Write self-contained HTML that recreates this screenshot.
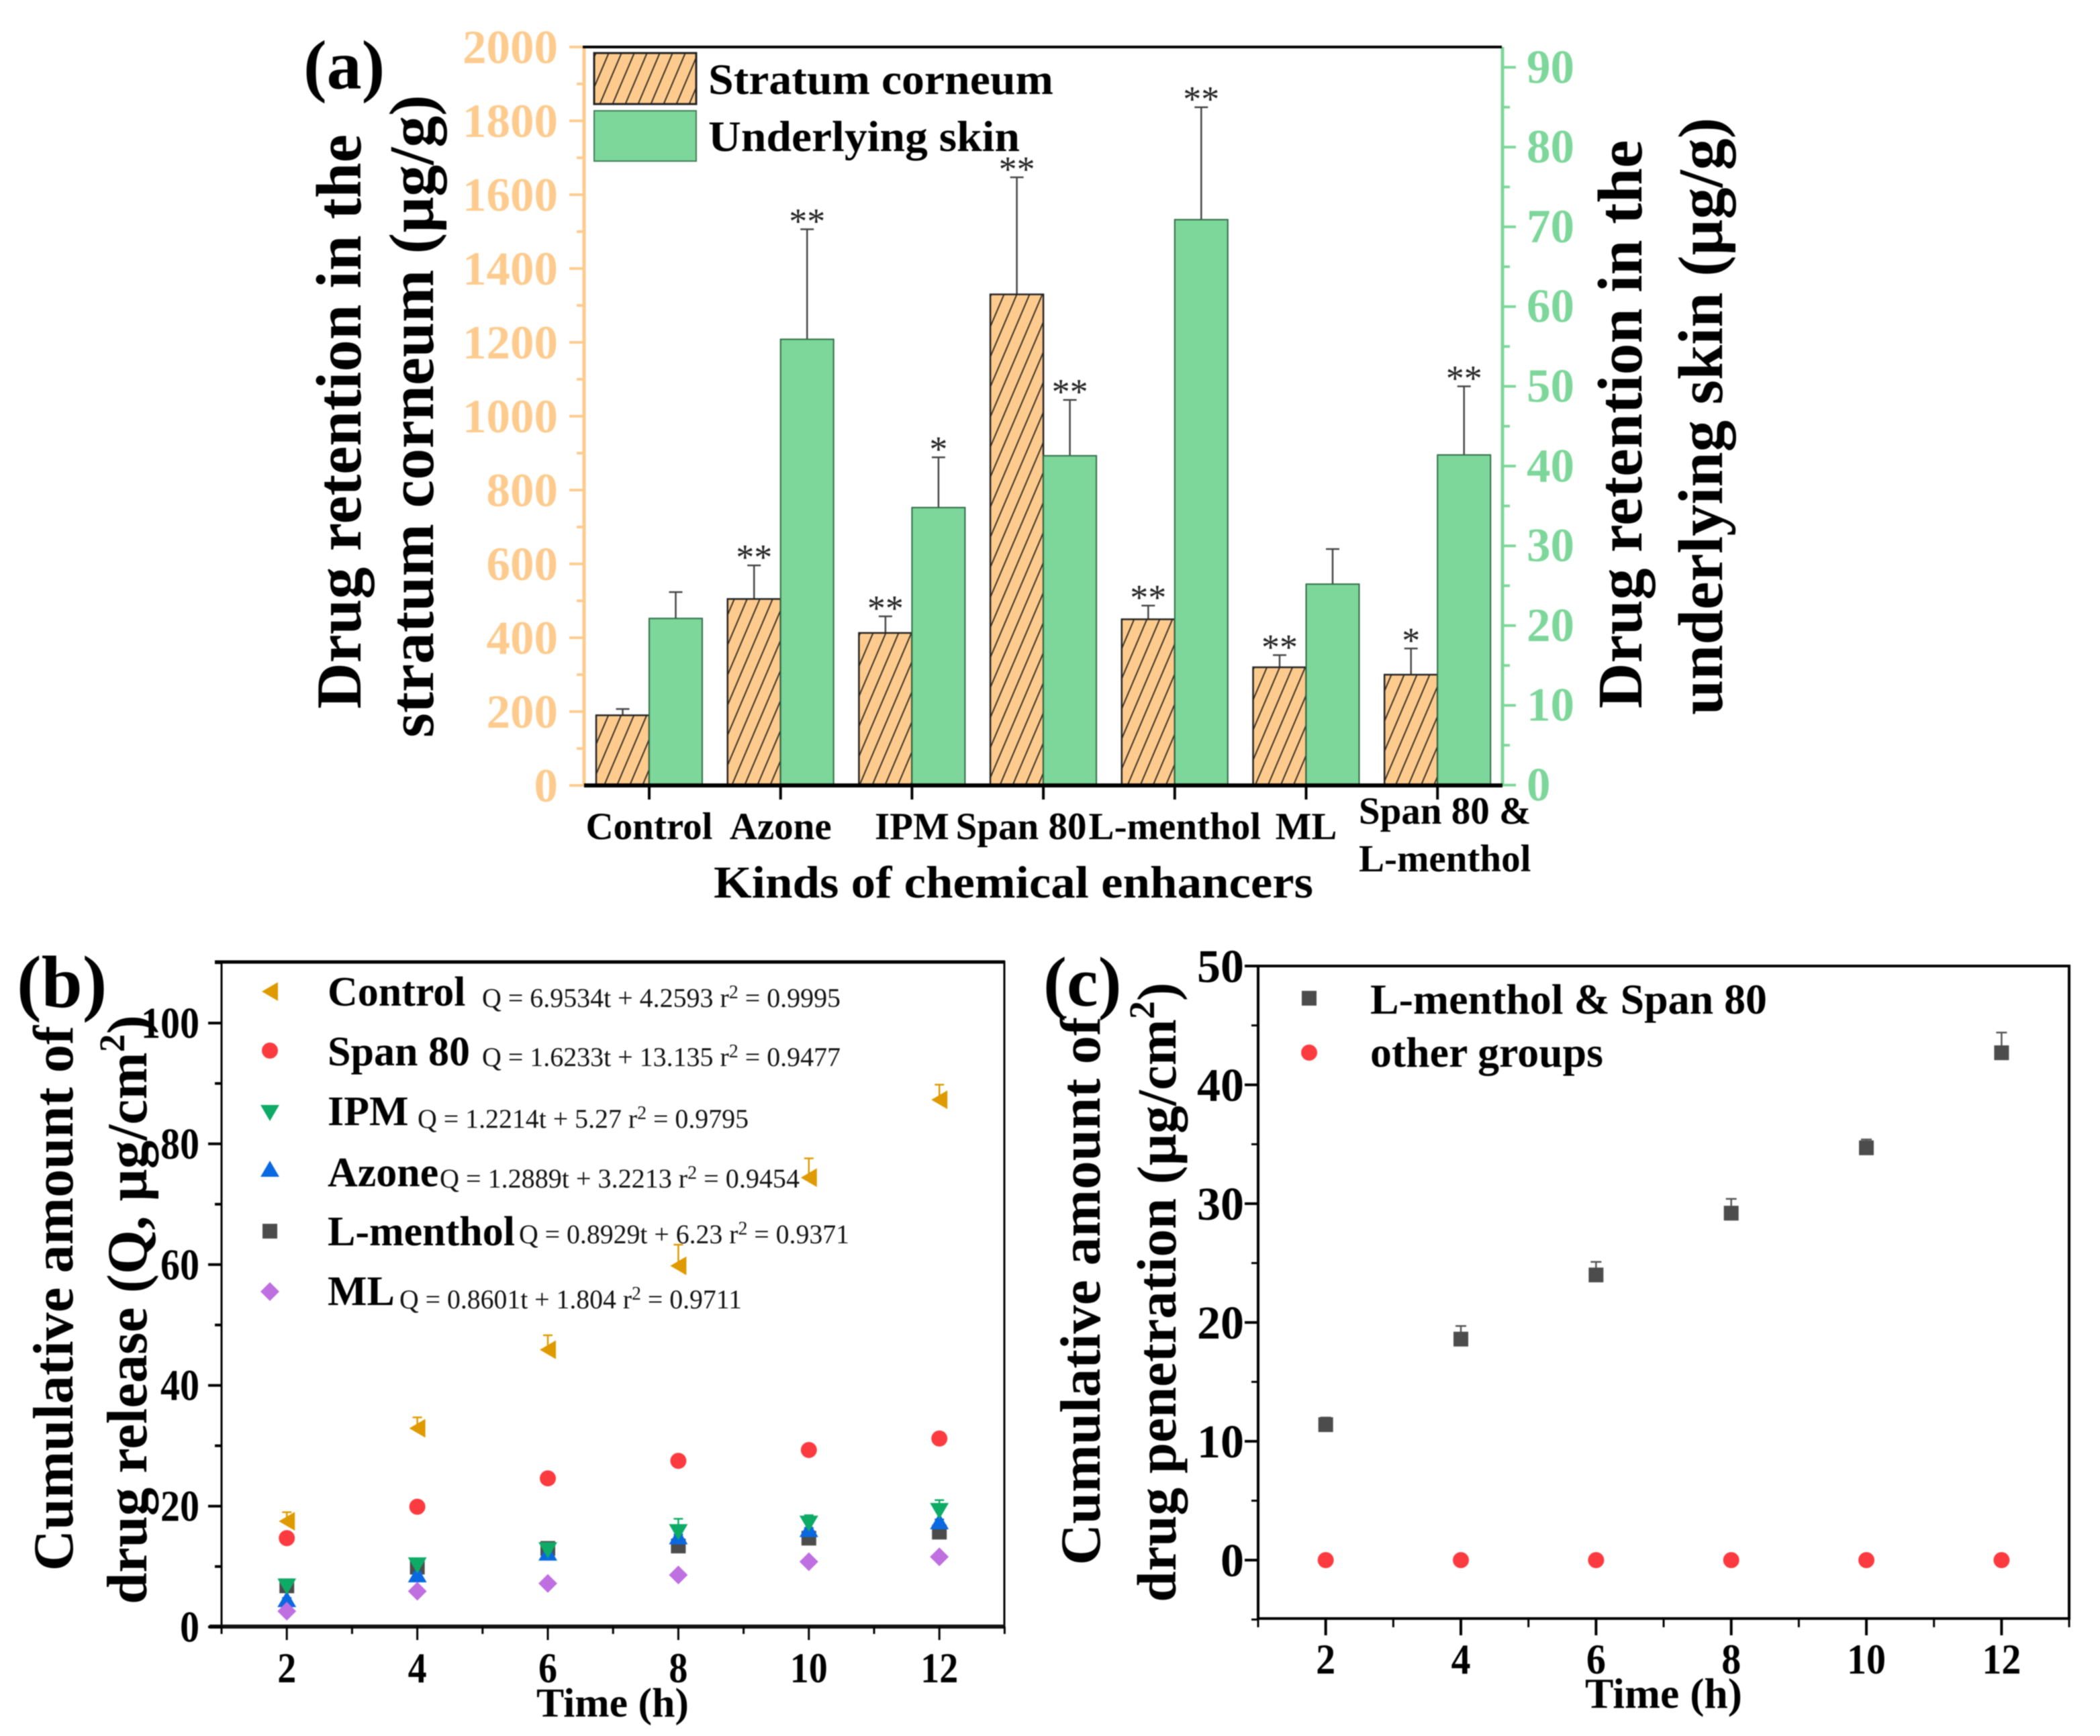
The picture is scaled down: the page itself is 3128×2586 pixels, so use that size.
<!DOCTYPE html>
<html lang="en">
<head>
<meta charset="utf-8">
<title>Drug retention and release charts</title>
<style>
html,body{margin:0;padding:0;background:#fff;width:3128px;height:2586px;overflow:hidden}
svg{display:block;filter:blur(0.8px)}
text{font-family:"Liberation Serif",serif;font-weight:bold;fill:#000}
.eq{font-weight:normal;font-size:40px;fill:#111}
</style>
</head>
<body>
<svg id="fig" xmlns="http://www.w3.org/2000/svg" width="3128" height="2586" viewBox="0 0 3128 2586">
<defs>
<pattern id="hatch" width="17.5" height="17.5" patternUnits="userSpaceOnUse" patternTransform="rotate(23)">
<rect width="17.5" height="17.5" fill="#FDCB8E"/>
<line x1="8" y1="0" x2="8" y2="17.5" stroke="#3a3025" stroke-width="2"/>
</pattern>
</defs>
<g id="panelA">
<text x="452" y="132" font-size="104">(a)</text>
<text transform="translate(537,628) rotate(-90)" text-anchor="middle" font-size="95">Drug retention in the</text>
<text transform="translate(645,620) rotate(-90)" text-anchor="middle" font-size="94">stratum corneum (µg/g)</text>
<text transform="translate(2445,632) rotate(-90)" text-anchor="middle" font-size="94">Drug retention in the</text>
<text transform="translate(2565,620) rotate(-90)" text-anchor="middle" font-size="94">underlying skin (µg/g)</text>
<text x="1063" y="1337" font-size="68" textLength="893" lengthAdjust="spacingAndGlyphs">Kinds of chemical enhancers</text>
<rect x="885" y="79" width="152" height="76" fill="url(#hatch)" stroke="#222" stroke-width="3"/>
<rect x="885" y="165" width="152" height="75" fill="#7DD69A" stroke="#3f7d55" stroke-width="2"/>
<text x="1055" y="140" font-size="65" textLength="514" lengthAdjust="spacingAndGlyphs">Stratum corneum</text>
<text x="1055" y="225" font-size="65" textLength="464" lengthAdjust="spacingAndGlyphs">Underlying skin</text>
</g>
<g id="panelB">
<text x="25" y="1500" font-size="110">(b)</text>
<text transform="translate(108,1934) rotate(-90)" text-anchor="middle" font-size="84.5">Cumulative amount of</text>
<text transform="translate(218,1951) rotate(-90)" text-anchor="middle" font-size="84.6">drug release (Q, µg/cm<tspan font-size="54" dy="-33">2</tspan><tspan dy="33">)</tspan></text>
<text x="799" y="2557" font-size="61" textLength="227" lengthAdjust="spacingAndGlyphs">Time (h)</text>
<text x="488" y="1498" font-size="62">Control</text>
<text x="488" y="1587" font-size="62">Span 80</text>
<text x="488" y="1676" font-size="62">IPM</text>
<text x="488" y="1767" font-size="62">Azone</text>
<text x="488" y="1855" font-size="62">L-menthol</text>
<text x="488" y="1944" font-size="62">ML</text>
<text class="eq" x="718" y="1500" textLength="534" lengthAdjust="spacingAndGlyphs">Q = 6.9534t + 4.2593 r<tspan font-size="28" dy="-13">2</tspan><tspan dy="13"> = 0.9995</tspan></text>
<text class="eq" x="718" y="1588" textLength="534" lengthAdjust="spacingAndGlyphs">Q = 1.6233t + 13.135 r<tspan font-size="28" dy="-13">2</tspan><tspan dy="13"> = 0.9477</tspan></text>
<text class="eq" x="622" y="1680" textLength="493" lengthAdjust="spacingAndGlyphs">Q = 1.2214t + 5.27 r<tspan font-size="28" dy="-13">2</tspan><tspan dy="13"> = 0.9795</tspan></text>
<text class="eq" x="655" y="1769" textLength="536" lengthAdjust="spacingAndGlyphs">Q = 1.2889t + 3.2213 r<tspan font-size="28" dy="-13">2</tspan><tspan dy="13"> = 0.9454</tspan></text>
<text class="eq" x="773" y="1852" textLength="492" lengthAdjust="spacingAndGlyphs">Q = 0.8929t + 6.23 r<tspan font-size="28" dy="-13">2</tspan><tspan dy="13"> = 0.9371</tspan></text>
<text class="eq" x="595" y="1949" textLength="510" lengthAdjust="spacingAndGlyphs">Q = 0.8601t + 1.804 r<tspan font-size="28" dy="-13">2</tspan><tspan dy="13"> = 0.9711</tspan></text>
</g>
<g id="panelC">
<text x="1554" y="1498" font-size="105">(c)</text>
<text transform="translate(1638,1923) rotate(-90)" text-anchor="middle" font-size="85">Cumulative amount of</text>
<text transform="translate(1751,1925) rotate(-90)" text-anchor="middle" font-size="83">drug penetration (µg/cm<tspan font-size="54" dy="-32">2</tspan><tspan dy="32">)</tspan></text>
<text x="2361" y="2544" font-size="63" textLength="234" lengthAdjust="spacingAndGlyphs">Time (h)</text>
<text x="2041" y="1510" font-size="63" textLength="591" lengthAdjust="spacingAndGlyphs">L-menthol &amp; Span 80</text>
<text x="2041" y="1589" font-size="63" textLength="347" lengthAdjust="spacingAndGlyphs">other groups</text>
</g>
</svg>
<script>
// Panel (a) data
const categories = ['Control', 'Azone', 'IPM', 'Span 80', 'L-menthol', 'ML', 'Span 80 &|L-menthol'];
const stratumValues = [190, 505, 413, 1330, 450, 320, 300];
const stratumErrors = [17, 91, 45, 317, 37, 33, 71];
const stratumStars = ['', '**', '**', '**', '**', '**', '*'];
const skinValues = [20.9, 55.9, 34.8, 41.3, 70.9, 25.2, 41.4];
const skinErrors = [3.3, 13.8, 6.3, 7.0, 14.1, 4.4, 8.6];
const skinStars = ['', '**', '*', '**', '**', '', '**'];
const leftTicks = [0, 200, 400, 600, 800, 1000, 1200, 1400, 1600, 1800, 2000];
const leftMinorTicks = [100, 300, 500, 700, 900, 1100, 1300, 1500, 1700, 1900];
const rightTicks = [0, 10, 20, 30, 40, 50, 60, 70, 80, 90];
const rightMinorTicks = [5, 15, 25, 35, 45, 55, 65, 75, 85];

// Panel (b) data
const hours = [2, 4, 6, 8, 10, 12];
const controlRelease = [17.5, 32.9, 45.9, 59.8, 74.4, 87.3];
const controlReleaseErr = [1.5, 1.8, 2.4, 3.5, 3.2, 2.5];
const spanRelease = [14.7, 19.9, 24.6, 27.5, 29.3, 31.2];
const spanReleaseErr = [0.3, 0.3, 0.3, 0.3, 0.3, 0.3];
const mentholRelease = [6.8, 9.9, 13.0, 13.4, 14.7, 15.7];
const mentholReleaseErr = [0.6, 0.5, 0.5, 0.6, 0.5, 0.5];
const azoneRelease = [4.5, 8.6, 12.2, 14.9, 16.1, 17.4];
const azoneReleaseErr = [0.3, 0.3, 0.3, 0.4, 0.3, 0.4];
const ipmRelease = [6.8, 10.3, 12.8, 15.8, 17.2, 19.3];
const ipmReleaseErr = [0.6, 0.5, 0.5, 2.1, 1.3, 1.7];
const mlRelease = [2.6, 5.9, 7.2, 8.6, 10.8, 11.6];
const mlReleaseErr = [0.3, 0.3, 0.3, 0.3, 0.3, 0.3];
const releaseTicks = [0, 20, 40, 60, 80, 100];
const releaseMinorTicks = [10, 30, 50, 70, 90, 110];
const hourMinorTicks = [1, 3, 5, 7, 9, 11, 13];

// Panel (c) data
const blendPenetration = [11.4, 18.6, 24.0, 29.2, 34.7, 42.7];
const blendPenetrationErr = [0.6, 1.1, 1.1, 1.2, 0.7, 1.7];
const otherPenetration = [0, 0, 0, 0, 0, 0];
const penetrationTicks = [0, 10, 20, 30, 40, 50];
const penetrationMinorTicks = [-5, 5, 15, 25, 35, 45];

const NS = 'http://www.w3.org/2000/svg';
const panelA = document.getElementById('panelA');
const panelB = document.getElementById('panelB');
const panelC = document.getElementById('panelC');

function add(tag, attrs, parent, content) {
  const node = document.createElementNS(NS, tag);
  for (const key in attrs) node.setAttribute(key, attrs[key]);
  if (content !== undefined) node.textContent = content;
  parent.appendChild(node);
  return node;
}

// Axis functions
const aX = i => 967 + i * 195.7;
const aLeftY = v => 1170 - v * 0.55;
const aRightY = v => 1169.5 - v * 11.88;
const bX = h => 330 + (h - 1) * 97.2;
const bY = v => 2423.5 - v * 8.995;
const cX = h => 1874 + (h - 1) * 100.67;
const cY = v => 2324 - v * 17.7;

const MARKERS = {
  left: (x, y) => `${x + 12},${y - 14} ${x + 12},${y + 14} ${x - 12},${y}`,
  down: (x, y) => `${x - 14},${y - 11} ${x + 14},${y - 11} ${x},${y + 13}`,
  up: (x, y) => `${x - 14},${y + 11} ${x + 14},${y + 11} ${x},${y - 13}`,
  diamond: (x, y) => `${x - 14},${y} ${x},${y - 14} ${x + 14},${y} ${x},${y + 14}`
};

function drawMarker(parent, shape, x, y, color, name) {
  let node;
  if (shape === 'circle') {
    node = add('circle', { cx: x, cy: y, r: 12, fill: color }, parent);
  } else if (shape === 'square') {
    node = add('rect', { x: x - 11, y: y - 11, width: 22, height: 22, fill: color }, parent);
  } else {
    node = add('polygon', { points: MARKERS[shape](x, y), fill: color }, parent);
  }
  
  
  return node;
}

function drawError(parent, x, yBase, yTop, color, capWidth, name) {
  const g = add('g', { stroke: color, 'stroke-width': 2.5, fill: 'none' }, parent);
  
  
  add('line', { x1: x, y1: yBase, x2: x, y2: yTop }, g);
  add('line', { x1: x - capWidth / 2, y1: yTop, x2: x + capWidth / 2, y2: yTop }, g);
}

function drawTick(parent, x1, y1, x2, y2, color, width) {
  const tick = add('line', { x1: x1, y1: y1, x2: x2, y2: y2, stroke: color, 'stroke-width': width }, parent);
  
  
}

function drawLabel(parent, x, y, label, size, anchor, color, advance) {
  const attrs = { x: x, y: y, 'font-size': size, 'text-anchor': anchor, style: 'fill:' + color };
  if (advance) {
    attrs.textLength = String(label).length * advance;
    attrs.lengthAdjust = 'spacingAndGlyphs';
  }
  const node = add('text', attrs, parent, label);
  
  
}

// ---------- Panel (a) ----------
const BAR_W = 79;
categories.forEach((cat, i) => {
  const x = aX(i);
  const sTop = aLeftY(stratumValues[i]);
  const gTop = aRightY(skinValues[i]);
  const sErrTop = aLeftY(stratumValues[i] + stratumErrors[i]);
  const gErrTop = aRightY(skinValues[i] + skinErrors[i]);
  drawError(panelA, x - BAR_W / 2, sTop, sErrTop, '#444', 20, 'stratum-error-bar');
  drawError(panelA, x + BAR_W / 2, gTop, gErrTop, '#444', 20, 'skin-error-bar');

  const sBar = add('rect', { x: x - BAR_W, y: sTop, width: BAR_W, height: 1170 - sTop, fill: 'url(#hatch)', stroke: '#222', 'stroke-width': 2.5 }, panelA);
  
  

  const gBar = add('rect', { x: x, y: gTop, width: BAR_W, height: 1170 - gTop, fill: '#7DD69A', stroke: '#2f6b45', 'stroke-width': 2 }, panelA);
  
  

  if (stratumStars[i]) {
    const s = add('text', { x: x - BAR_W / 2, y: sErrTop + 6, 'font-size': 54, 'text-anchor': 'middle', style: 'font-weight:normal;fill:#222' }, panelA, stratumStars[i]);
    
    
  }
  if (skinStars[i]) {
    const s = add('text', { x: x + BAR_W / 2, y: gErrTop + 6, 'font-size': 54, 'text-anchor': 'middle', style: 'font-weight:normal;fill:#222' }, panelA, skinStars[i]);
    
    
  }

  drawTick(panelA, x, 1170, x, 1191, '#000', 4);
  const parts = cat.split('|');
  if (parts.length === 2) {
    drawLabel(panelA, x + 11, 1227, parts[0], 57, 'middle', '#000');
    drawLabel(panelA, x + 11, 1298, parts[1], 57, 'middle', '#000');
  } else {
    const shift = cat === 'Span 80' ? -33 : 0;
    drawLabel(panelA, x + shift, 1250, cat, 57, 'middle', '#000');
  }
});

leftTicks.forEach(v => {
  drawTick(panelA, 848, aLeftY(v), 870, aLeftY(v), '#FDCB8E', 4);
  drawLabel(panelA, 831, aLeftY(v) + 24, v, 71, 'end', '#FDCB8E');
});
leftMinorTicks.forEach(v => drawTick(panelA, 859, aLeftY(v), 870, aLeftY(v), '#FDCB8E', 4));
rightTicks.forEach(v => {
  drawTick(panelA, 2238, aRightY(v), 2258, aRightY(v), '#7DD69A', 4);
  drawLabel(panelA, 2274, aRightY(v) + 23, v, 71, 'start', '#7DD69A');
});
rightMinorTicks.forEach(v => drawTick(panelA, 2238, aRightY(v), 2249, aRightY(v), '#7DD69A', 4));

const aLeftAxis = add('line', { x1: 870, y1: 70, x2: 870, y2: 1170, stroke: '#FDCB8E', 'stroke-width': 5 }, panelA);


const aRightAxis = add('line', { x1: 2238, y1: 70, x2: 2238, y2: 1170, stroke: '#7DD69A', 'stroke-width': 5 }, panelA);


const aTopAxis = add('line', { x1: 868, y1: 70, x2: 2237, y2: 70, stroke: '#000', 'stroke-width': 4 }, panelA);


const aBottomAxis = add('line', { x1: 870, y1: 1170, x2: 2238, y2: 1170, stroke: '#000', 'stroke-width': 6 }, panelA);



// ---------- Panel (b) ----------
const bFrame = add('rect', { x: 330, y: 1433, width: 1166, height: 990, fill: 'none', stroke: '#000', 'stroke-width': 3 }, panelB);


const bTop = add('line', { x1: 320, y1: 1433, x2: 1497, y2: 1433, stroke: '#000', 'stroke-width': 5 }, panelB);


const bBottom = add('line', { x1: 312, y1: 2423, x2: 1497, y2: 2423, stroke: '#111', 'stroke-width': 6 }, panelB);



releaseTicks.forEach(v => {
  drawTick(panelB, 310, bY(v), 330, bY(v), '#000', 4);
  drawLabel(panelB, 297, bY(v) + 22, v, 66, 'end', '#000', 29);
});
releaseMinorTicks.forEach(v => drawTick(panelB, 320, bY(v), 330, bY(v), '#000', 4));
hours.forEach(h => {
  drawTick(panelB, bX(h), 2423, bX(h), 2443, '#000', 3);
  drawLabel(panelB, bX(h), 2506, h, 64, 'middle', '#000', 28);
});
hourMinorTicks.forEach(h => drawTick(panelB, bX(h), 2423, bX(h), 2434, '#000', 3));

function drawReleaseSeries(values, errors, shape, color, name) {
  values.forEach((v, i) => {
    drawError(panelB, bX(hours[i]), bY(v), bY(v + errors[i]), color, 14, name + '-error-bar');
  });
  values.forEach((v, i) => {
    drawMarker(panelB, shape, bX(hours[i]), bY(v), color, name + '-point');
  });
}
drawReleaseSeries(controlRelease, controlReleaseErr, 'left', '#DE9A00', 'control');
drawReleaseSeries(spanRelease, spanReleaseErr, 'circle', '#FB3B3F', 'span-80');
drawReleaseSeries(mentholRelease, mentholReleaseErr, 'square', '#4C4C4C', 'l-menthol');
drawReleaseSeries(azoneRelease, azoneReleaseErr, 'up', '#0A68E0', 'azone');
drawReleaseSeries(ipmRelease, ipmReleaseErr, 'down', '#0DAB66', 'ipm');
drawReleaseSeries(mlRelease, mlReleaseErr, 'diamond', '#BE6FE0', 'ml');

drawMarker(panelB, 'left', 402, 1477, '#DE9A00', 'legend-marker-control');
drawMarker(panelB, 'circle', 402, 1565, '#FB3B3F', 'legend-marker-span-80');
drawMarker(panelB, 'down', 402, 1657, '#0DAB66', 'legend-marker-ipm');
drawMarker(panelB, 'up', 402, 1742, '#0A68E0', 'legend-marker-azone');
drawMarker(panelB, 'square', 402, 1834, '#4C4C4C', 'legend-marker-l-menthol');
drawMarker(panelB, 'diamond', 402, 1924, '#BE6FE0', 'legend-marker-ml');

// ---------- Panel (c) ----------
const cFrame = add('rect', { x: 1874, y: 1439, width: 1208, height: 972, fill: 'none', stroke: '#000', 'stroke-width': 4 }, panelC);



penetrationTicks.forEach(v => {
  drawTick(panelC, 1854, cY(v), 1874, cY(v), '#000', 4);
  drawLabel(panelC, 1853, cY(v) + 24, v, 70, 'end', '#000');
});
penetrationMinorTicks.forEach(v => drawTick(panelC, 1864, cY(v), 1874, cY(v), '#000', 3));
hours.forEach(h => {
  drawTick(panelC, cX(h), 2411, cX(h), 2436, '#000', 4);
  drawLabel(panelC, cX(h), 2493, h, 64, 'middle', '#000', 29);
});
hourMinorTicks.forEach(h => drawTick(panelC, cX(h), 2411, cX(h), 2424, '#000', 3));

blendPenetration.forEach((v, i) => {
  drawError(panelC, cX(hours[i]), cY(v), cY(v + blendPenetrationErr[i]), '#555', 16, 'blend-error-bar');
  drawMarker(panelC, 'square', cX(hours[i]), cY(v), '#4C4C4C', 'blend-point');
});
otherPenetration.forEach((v, i) => {
  drawMarker(panelC, 'circle', cX(hours[i]), cY(v), '#FB3B3F', 'other-groups-point');
});
drawMarker(panelC, 'square', 1950, 1487, '#4C4C4C', 'legend-marker-blend');
drawMarker(panelC, 'circle', 1950, 1568, '#FB3B3F', 'legend-marker-other-groups');
</script>
</body>
</html>
